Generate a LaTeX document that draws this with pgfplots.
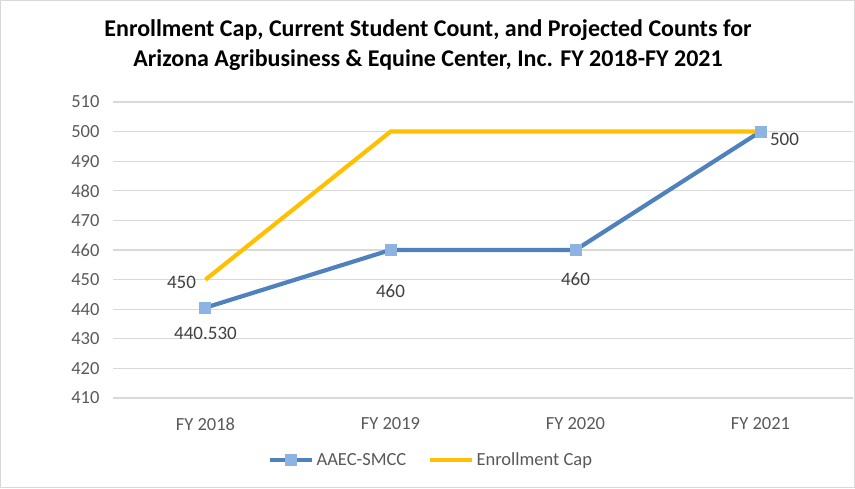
\documentclass[border=0pt]{standalone}
\usepackage{pgfplots}
\pgfplotsset{compat=1.18}
\usepackage{fontspec}
\setmainfont{Carlito}
\definecolor{lineblue}{HTML}{4F81BD}
\definecolor{markblue}{HTML}{8DB3E2}
\definecolor{capyellow}{HTML}{FFC000}
\definecolor{gridgray}{HTML}{D9D9D9}
\definecolor{textgray}{HTML}{595959}
\definecolor{labelgray}{HTML}{404040}
\begin{document}
\begin{tikzpicture}[x=1pt,y=1pt]
\useasboundingbox (0,0) rectangle (855,488);
\draw[gridgray,line width=1.2pt] (0.6,0.6) rectangle (854.4,487.4);
\node[font=\fontsize{24}{30}\selectfont\bfseries, text=black] at (428,458) {Enrollment Cap, Current Student Count, and Projected Counts for};
\node[font=\fontsize{24}{30}\selectfont\bfseries, text=black] at (428,428) {Arizona Agribusiness \& Equine Center, Inc. FY 2018-FY 2021};
\begin{axis}[
  at={(113pt,90pt)}, anchor=south west,
  scale only axis, width=740pt, height=296pt,
  xmin=-0.5, xmax=3.5, ymin=410, ymax=510,
  xtick={0,1,2,3},
  xticklabels={FY 2018,FY 2019,FY 2020,FY 2021},
  ytick={410,420,...,510},
  ymajorgrids, major grid style={gridgray, line width=1.3pt},
  axis line style={draw=none},
  tick style={draw=none},
  /pgf/number format/assume math mode=true,
  ticklabel style={font=\fontsize{18.5}{20}\selectfont, text=textgray},
  xticklabel style={yshift=-16pt},
  yticklabel style={xshift=-10pt},
  clip=false,
  legend columns=2,
  legend style={draw=none, at={(0.43,-0.209)}, anchor=center,
    font=\fontsize{18.5}{20}\selectfont, text=textgray,
    /tikz/every even column/.append style={column sep=20pt}},
  legend image code/.code={
    \draw[#1, mark=none] (0pt,0pt) -- (42pt,0pt);
    \path[#1] plot coordinates {(21pt,0pt)};
  },
]
\addplot[lineblue, line width=4.2pt, mark=square*, mark size=5.5pt,
  mark options={fill=markblue, draw=markblue, line width=0pt}]
  coordinates {(0,440.53) (1,460) (2,460) (3,500)};
\addlegendentry{AAEC-SMCC}
\addplot[capyellow, line width=4.2pt, mark=none]
  coordinates {(0,450) (1,500) (2,500) (3,500)};
\addlegendentry{Enrollment Cap}
% data labels
\addplot[draw=none, mark=none, forget plot, point meta=explicit symbolic,
  nodes near coords, nodes near coords style={anchor=center, yshift=-26pt, font=\fontsize{19}{20}\selectfont, text=labelgray}]
  coordinates {(0,440.53)[440.530]};
\addplot[draw=none, mark=none, forget plot, point meta=explicit symbolic,
  nodes near coords, nodes near coords style={anchor=center, yshift=-41pt, font=\fontsize{19}{20}\selectfont, text=labelgray}]
  coordinates {(1,460)[460]};
\addplot[draw=none, mark=none, forget plot, point meta=explicit symbolic,
  nodes near coords, nodes near coords style={anchor=center, yshift=-29pt, font=\fontsize{19}{20}\selectfont, text=labelgray}]
  coordinates {(2,460)[460]};
\addplot[draw=none, mark=none, forget plot, point meta=explicit symbolic,
  nodes near coords, nodes near coords style={anchor=center, xshift=-24pt, yshift=-3pt, font=\fontsize{19}{20}\selectfont, text=labelgray}]
  coordinates {(0,450)[450]};
\addplot[draw=none, mark=none, forget plot, point meta=explicit symbolic,
  nodes near coords, nodes near coords style={anchor=center, xshift=24pt, yshift=-8pt, font=\fontsize{19}{20}\selectfont, text=labelgray}]
  coordinates {(3,500)[500]};
\end{axis}
\end{tikzpicture}
\end{document}
